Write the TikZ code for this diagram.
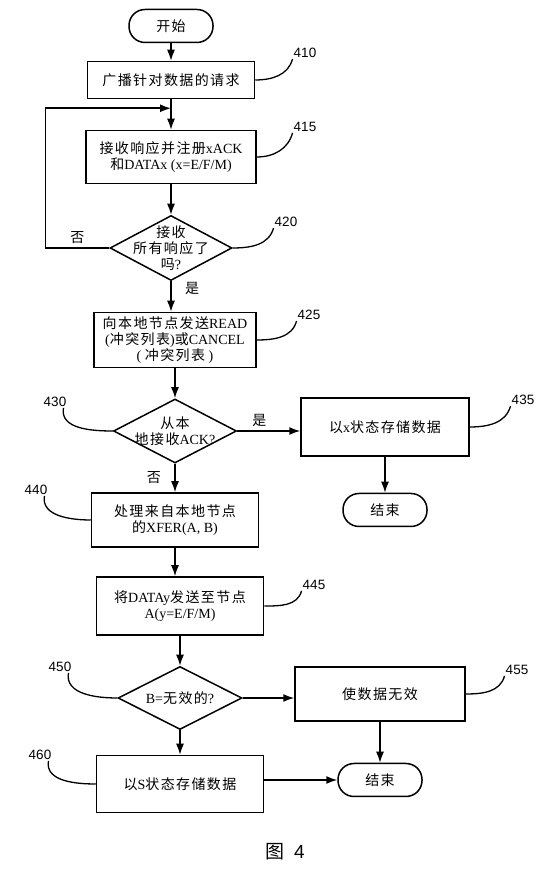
\documentclass[tikz,border=0pt]{standalone}
\usepackage{fontspec}
\setmainfont[LetterSpace=10]{Noto Sans CJK SC}
\newfontfamily\serifen{Liberation Serif}
\newfontfamily\numfont{Liberation Sans}
\newcommand{\en}[1]{{\serifen #1}}
\usetikzlibrary{arrows.meta,positioning,shapes.geometric}
\tikzset{
    %Define standard arrow tip
    >={Latex[length=11pt,width=8pt]},
    %Define style for boxes
    procbox/.style={
           rectangle,
           draw=black, line width=1.5pt,
           align=center,
           inner sep=2pt,
           minimum width=167pt,
           minimum height=56pt},
    termnode/.style={
           rectangle,
           rounded corners=16pt,
           draw=black, line width=1.5pt,
           minimum width=84pt,
           minimum height=33pt},
    decision/.style={
           diamond,
           draw=black, line width=1.5pt,
           inner sep=0pt,
           minimum width=123pt,
           minimum height=64pt},
    % Define arrow style
    pil/.style={
           ->,
           line width=1.5pt},
    % reference numbers and their leader lines
    tag/.style={font=\fontsize{13.5}{15}\selectfont\numfont, inner sep=1pt},
    lead/.style={line width=1.3pt}
}
\begin{document}
\begin{tikzpicture}[x=1pt, y=1pt, every node/.style={font=\fontsize{14}{16}\selectfont}]
 \useasboundingbox (0,0) rectangle (540,882);

 \node[termnode] (start) at (171,856) {开始};
 \node[procbox, minimum height=37pt] (b410) at (171,802) {广播针对数据的请求};
 \node[procbox, minimum width=170pt, minimum height=53pt] (b415) at (171,725)
   {接收响应并注册\en{xACK}\\和\en{DATAx (x=E/F/M)}};
 \node[decision, minimum width=122pt, minimum height=65pt,
   label={[align=center]center:接收\\所有响应了\\吗\en{?}}] (q420) at (171,634) {};

 \node[procbox, minimum width=162pt, minimum height=55pt] (b425) at (175,542)
   {向本地节点发送\en{READ}\\\en{(}冲突列表\en{)}或\en{CANCEL}\\\en{( }冲突列表\en{ )}};
 \node[decision, label={[align=center]center:从本\\地接收\en{ACK?}}] (q430) at (175,451) {};
 \node[procbox, minimum width=168pt, minimum height=58pt] (b435) at (385,455) {以\en{x}状态存储数据};
 \node[termnode] (end1) at (385,372) {结束};
 \node[procbox, minimum height=54pt] (b440) at (175,362) {处理来自本地节点\\的\en{XFER(A, B)}};

 \node[procbox, minimum height=58pt] (b445) at (180,276) {将\en{DATAy}发送至节点\\\en{A(y=E/F/M)}};
 \node[decision, minimum width=124pt, minimum height=63pt,
   label={center:\en{B=}无效的\en{?}}] (q450) at (180,184) {};
 \node[procbox, minimum width=170pt, minimum height=54pt] (b455) at (380,188) {使数据无效};
 \node[termnode] (end2) at (380,102) {结束};
 \node[procbox, minimum height=57pt] (b460) at (180,98) {以\en{S}状态存储数据};

 \node (fig) at (285,30) {\fontsize{19}{19}\selectfont 图\hspace{10pt}{\numfont 4}};

 % reference numbers
 \node[tag] (t410) at (305,829) {410};
 \node[tag] (t415) at (305,755) {415};
 \node[tag] (t420) at (286,660) {420};
 \node[tag] (t425) at (309,567) {425};
 \node[tag] (t430) at (55,480) {430};
 \node[tag] (t435) at (523,482) {435};
 \node[tag] (t440) at (36,392) {440};
 \node[tag] (t445) at (314,297) {445};
 \node[tag] (t450) at (60,215) {450};
 \node[tag] (t455) at (517,212) {455};
 \node[tag] (t460) at (40,127) {460};

 % flow
 \coordinate[below=9pt of b410.south] (join);
 \draw[pil] (start) -- (b410);
 \draw[pil] (b410) -- (b415);
 \draw[pil] (b415) -- (q420);
 \draw[pil] (q420.west) -- node[above]{否} ++(-64,0) |- (join);
 \draw[pil] (q420.south) -- node[near start, right=10pt]{是} (q420.south |- b425.north);
 \draw[pil] (b425) -- (q430);
 \draw[pil] (q430.east) -- node[above, pos=0.35]{是} (q430.east -| b435.west);
 \draw[pil] (q430.south) -- node[left=10pt]{否} (b440.north);
 \draw[pil] (b435) -- (end1);
 \draw[pil] (b440.south) -- (b440.south |- b445.north);
 \draw[pil] (b445) -- (q450);
 \draw[pil] (q450.east) -- (q450.east -| b455.west);
 \draw[pil] (q450) -- (b460);
 \draw[pil] (b455) -- (end2);
 \draw[pil] (b460.east |- end2.west) -- (end2.west);

 % leaders
 \draw[lead] (b410.east) to[out=0,in=-105] (t410.south west);
 \draw[lead] (b415.east) to[out=0,in=-105] (t415.south west);
 \draw[lead] (q420.east) to[out=0,in=-105] (t420.south west);
 \draw[lead] (b425.east) to[out=0,in=-105] (t425.south west);
 \draw[lead] (b435.east) to[out=0,in=-105] (t435.south west);
 \draw[lead] (b445.east) to[out=0,in=-105] (t445.south west);
 \draw[lead] (b455.east) to[out=0,in=-105] (t455.south west);
 \draw[lead] ([xshift=-4pt]t430.south east) to[out=-100,in=180] (q430.west);
 \draw[lead] ([xshift=-4pt]t440.south east) to[out=-100,in=180] (b440.west);
 \draw[lead] ([xshift=-4pt]t450.south east) to[out=-100,in=180] (q450.west);
 \draw[lead] ([xshift=-4pt]t460.south east) to[out=-100,in=180] (b460.west);
\end{tikzpicture}
\end{document}
